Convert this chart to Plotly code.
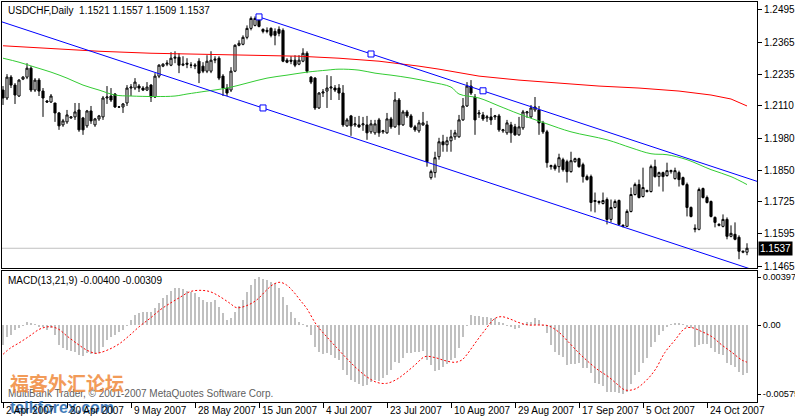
import plotly.graph_objects as go

# ---------------- text ----------------
symbol_title = "USDCHF,Daily  1.1521 1.1557 1.1509 1.1537"
macd_title = "MACD(13,21,9) -0.00400 -0.00309"
copyright_text = "MultiBank Trader, \u00a9 2001-2007 MetaQuotes Software Corp."

# ---------------- axes ----------------
date_tick_bars = [0, 16, 32, 48, 64, 80, 96, 112, 128, 144, 160, 176]
date_tick_labels = ["2 Apr 2007", "20 Apr 2007", "9 May 2007", "28 May 2007", "15 Jun 2007",
                    "4 Jul 2007", "23 Jul 2007", "10 Aug 2007", "29 Aug 2007", "17 Sep 2007",
                    "5 Oct 2007", "24 Oct 2007"]
price_ticks = [1.2495, 1.2365, 1.2235, 1.2110, 1.1980, 1.1850, 1.1725, 1.1595, 1.1465]
macd_ticks = [0.00397, 0.0, -0.00575]
macd_tick_labels = ["0.00397", "0.00", "-0.00575"]

# ---------------- daily OHLC ----------------
opens = [1.2173, 1.2141, 1.2225, 1.2193, 1.2149, 1.2217, 1.2225, 1.2261, 1.2173, 1.2213,
         1.2169, 1.2129, 1.2125, 1.2121, 1.2081, 1.2033, 1.2045, 1.2061, 1.2065, 1.2093,
         1.2061, 1.2029, 1.2089, 1.2033, 1.2057, 1.2065, 1.2141, 1.2149, 1.2157, 1.2105,
         1.2105, 1.2121, 1.2181, 1.2181, 1.2189, 1.2181, 1.2173, 1.2193, 1.2145, 1.2229,
         1.2269, 1.2277, 1.2273, 1.2301, 1.2305, 1.2273, 1.2281, 1.2273, 1.2269, 1.2289,
         1.2269, 1.2249, 1.2249, 1.2293, 1.2301, 1.2229, 1.2181, 1.2173, 1.2249, 1.2353,
         1.2357, 1.2385, 1.2421, 1.2433, 1.2469, 1.2417, 1.2413, 1.2421, 1.2409, 1.2417,
         1.2413, 1.2293, 1.2293, 1.2293, 1.2277, 1.2289, 1.2321, 1.2225, 1.2221, 1.2101,
         1.2161, 1.2169, 1.2181, 1.2181, 1.2181, 1.2161, 1.2029, 1.2069, 1.2033, 1.2033,
         1.2033, 1.2033, 1.2005, 1.2001, 1.2053, 1.2005, 1.2001, 1.2057, 1.2025, 1.2133,
         1.2033, 1.2085, 1.2069, 1.2025, 1.2009, 1.2033, 1.2033, 1.1821, 1.1841, 1.1905,
         1.1965, 1.1953, 1.1969, 1.1985, 1.1985, 1.2053, 1.2109, 1.2189, 1.2145, 1.2077,
         1.2073, 1.2061, 1.2065, 1.2065, 1.2069, 1.2009, 1.2001, 1.2033, 1.2025, 1.1993,
         1.2021, 1.2081, 1.2065, 1.2093, 1.2093, 1.2041, 1.2005, 1.1865, 1.1869, 1.1865,
         1.1893, 1.1885, 1.1845, 1.1885, 1.1897, 1.1873, 1.1825, 1.1825, 1.1725, 1.1721,
         1.1717, 1.1733, 1.1653, 1.1701, 1.1729, 1.1625, 1.1625, 1.1685, 1.1753, 1.1793,
         1.1745, 1.1765, 1.1765, 1.1865, 1.1825, 1.1841, 1.1829, 1.1845, 1.1817, 1.1841,
         1.1821, 1.1793, 1.1701, 1.1613, 1.1613, 1.1777, 1.1741, 1.1725, 1.1661, 1.1629,
         1.1625, 1.1653, 1.1585, 1.1593, 1.1581, 1.1521, 1.1521]
highs = [1.2189, 1.2237, 1.2233, 1.2201, 1.2217, 1.2229, 1.2281, 1.2269, 1.2221, 1.2221,
         1.2181, 1.2133, 1.2157, 1.2121, 1.2085, 1.2057, 1.2093, 1.2065, 1.2121, 1.2121,
         1.2065, 1.2093, 1.2109, 1.2061, 1.2073, 1.2149, 1.2189, 1.2181, 1.2161, 1.2109,
         1.2121, 1.2193, 1.2197, 1.2221, 1.2197, 1.2189, 1.2205, 1.2197, 1.2241, 1.2277,
         1.2281, 1.2293, 1.2325, 1.2329, 1.2321, 1.2309, 1.2301, 1.2285, 1.2281, 1.2301,
         1.2285, 1.2313, 1.2329, 1.2309, 1.2309, 1.2237, 1.2197, 1.2265, 1.2357, 1.2373,
         1.2393, 1.2433, 1.2469, 1.2469, 1.2473, 1.2421, 1.2425, 1.2425, 1.2421, 1.2429,
         1.2421, 1.2301, 1.2309, 1.2313, 1.2313, 1.2341, 1.2329, 1.2229, 1.2225, 1.2165,
         1.2177, 1.2233, 1.2229, 1.2193, 1.2197, 1.2193, 1.2061, 1.2073, 1.2065, 1.2069,
         1.2065, 1.2069, 1.2053, 1.2053, 1.2061, 1.2013, 1.2081, 1.2065, 1.2165, 1.2141,
         1.2093, 1.2093, 1.2077, 1.2033, 1.2053, 1.2085, 1.2049, 1.1853, 1.1925, 1.1981,
         1.1993, 1.1985, 1.2013, 1.2013, 1.2073, 1.2141, 1.2205, 1.2213, 1.2157, 1.2093,
         1.2085, 1.2073, 1.2101, 1.2073, 1.2077, 1.2017, 1.2053, 1.2045, 1.2037, 1.2065,
         1.2093, 1.2089, 1.2113, 1.2145, 1.2109, 1.2049, 1.2013, 1.1873, 1.1877, 1.1917,
         1.1901, 1.1893, 1.1925, 1.1901, 1.1901, 1.1881, 1.1833, 1.1833, 1.1761, 1.1729,
         1.1761, 1.1741, 1.1733, 1.1733, 1.1733, 1.1633, 1.1693, 1.1781, 1.1801, 1.1813,
         1.1861, 1.1773, 1.1873, 1.1893, 1.1845, 1.1845, 1.1881, 1.1853, 1.1861, 1.1849,
         1.1825, 1.1801, 1.1705, 1.1633, 1.1781, 1.1781, 1.1749, 1.1729, 1.1665, 1.1637,
         1.1673, 1.1661, 1.1629, 1.1641, 1.1589, 1.1525, 1.1557]
lows = [1.2113, 1.2133, 1.2181, 1.2117, 1.2145, 1.2213, 1.2217, 1.2165, 1.2165, 1.2149,
        1.2065, 1.2121, 1.2121, 1.2045, 1.2013, 1.2025, 1.2037, 1.2057, 1.2053, 1.2005,
        1.1993, 1.2021, 1.2037, 1.2025, 1.2049, 1.2053, 1.2117, 1.2125, 1.2101, 1.2101,
        1.2081, 1.2109, 1.2149, 1.2173, 1.2165, 1.2169, 1.2169, 1.2125, 1.2141, 1.2221,
        1.2265, 1.2269, 1.2269, 1.2281, 1.2241, 1.2269, 1.2261, 1.2261, 1.2257, 1.2201,
        1.2241, 1.2241, 1.2241, 1.2281, 1.2213, 1.2149, 1.2149, 1.2165, 1.2245, 1.2349,
        1.2353, 1.2377, 1.2413, 1.2429, 1.2425, 1.2401, 1.2401, 1.2385, 1.2353, 1.2389,
        1.2285, 1.2281, 1.2277, 1.2265, 1.2273, 1.2285, 1.2241, 1.2197, 1.2093, 1.2097,
        1.2145, 1.2101, 1.2133, 1.2165, 1.2133, 1.2025, 1.2025, 1.1989, 1.2025, 1.2021,
        1.2009, 1.1973, 1.1997, 1.1993, 1.1985, 1.1997, 1.1997, 1.2017, 1.2021, 1.1993,
        1.2029, 1.2061, 1.2021, 1.2005, 1.2001, 1.2029, 1.1865, 1.1813, 1.1821, 1.1893,
        1.1925, 1.1925, 1.1925, 1.1973, 1.1981, 1.2049, 1.2105, 1.2153, 1.1993, 1.2061,
        1.2049, 1.2045, 1.2033, 1.2053, 1.2005, 1.2001, 1.1993, 1.1961, 1.1989, 1.1989,
        1.2013, 1.2061, 1.2061, 1.2085, 1.1993, 1.1997, 1.1861, 1.1853, 1.1849, 1.1841,
        1.1845, 1.1801, 1.1841, 1.1881, 1.1861, 1.1801, 1.1809, 1.1685, 1.1681, 1.1713,
        1.1713, 1.1633, 1.1641, 1.1697, 1.1629, 1.1621, 1.1625, 1.1681, 1.1749, 1.1737,
        1.1741, 1.1761, 1.1761, 1.1821, 1.1785, 1.1765, 1.1825, 1.1837, 1.1813, 1.1785,
        1.1789, 1.1665, 1.1661, 1.1601, 1.1609, 1.1737, 1.1717, 1.1661, 1.1621, 1.1625,
        1.1621, 1.1573, 1.1581, 1.1569, 1.1493, 1.1517, 1.1509]
closes = [1.2141, 1.2225, 1.2193, 1.2153, 1.2213, 1.2225, 1.2261, 1.2173, 1.2213, 1.2169,
          1.2141, 1.2125, 1.2149, 1.2081, 1.2029, 1.2049, 1.2073, 1.2065, 1.2085, 1.2013,
          1.2013, 1.2089, 1.2049, 1.2057, 1.2069, 1.2141, 1.2145, 1.2133, 1.2105, 1.2105,
          1.2117, 1.2181, 1.2185, 1.2205, 1.2181, 1.2173, 1.2185, 1.2145, 1.2229, 1.2273,
          1.2277, 1.2281, 1.2301, 1.2305, 1.2273, 1.2277, 1.2277, 1.2273, 1.2273, 1.2241,
          1.2249, 1.2289, 1.2293, 1.2297, 1.2221, 1.2181, 1.2161, 1.2249, 1.2353, 1.2361,
          1.2385, 1.2421, 1.2461, 1.2461, 1.2429, 1.2409, 1.2409, 1.2393, 1.2393, 1.2401,
          1.2289, 1.2285, 1.2289, 1.2273, 1.2293, 1.2321, 1.2249, 1.2205, 1.2101, 1.2161,
          1.2165, 1.2181, 1.2185, 1.2173, 1.2161, 1.2033, 1.2053, 1.2029, 1.2037, 1.2025,
          1.2037, 1.2001, 1.2037, 1.2037, 1.2001, 1.2009, 1.2057, 1.2025, 1.2133, 1.2033,
          1.2085, 1.2069, 1.2025, 1.2013, 1.2041, 1.2041, 1.1885, 1.1845, 1.1901, 1.1965,
          1.1953, 1.1969, 1.1985, 1.2001, 1.2053, 1.2109, 1.2189, 1.2161, 1.2053, 1.2081,
          1.2057, 1.2065, 1.2053, 1.2069, 1.2013, 1.2013, 1.2041, 1.2001, 1.1993, 1.2025,
          1.2085, 1.2085, 1.2101, 1.2105, 1.2041, 1.2005, 1.1881, 1.1869, 1.1857, 1.1901,
          1.1853, 1.1845, 1.1889, 1.1897, 1.1865, 1.1825, 1.1813, 1.1721, 1.1729, 1.1725,
          1.1729, 1.1653, 1.1701, 1.1725, 1.1633, 1.1629, 1.1685, 1.1753, 1.1793, 1.1741,
          1.1781, 1.1769, 1.1865, 1.1825, 1.1841, 1.1825, 1.1849, 1.1849, 1.1849, 1.1813,
          1.1793, 1.1701, 1.1665, 1.1617, 1.1773, 1.1741, 1.1721, 1.1665, 1.1641, 1.1633,
          1.1653, 1.1585, 1.1597, 1.1573, 1.1525, 1.1525, 1.1537]
bars = list(range(len(closes)))

# ---------------- moving averages (read at sample bars) ----------------
ma_red_bars = [0, 10, 24, 37, 49, 64, 74, 84, 94, 104, 109, 119, 129, 139, 149, 159, 169, 177, 182, 186]
ma_red_vals = [1.2351, 1.2341, 1.2329, 1.2321, 1.2317, 1.2313, 1.2309, 1.2301, 1.2289, 1.2269,
               1.2257, 1.2229, 1.2213, 1.2201, 1.2189, 1.2181, 1.2169, 1.2153, 1.2137, 1.2109]
ma_green_bars = [0, 4, 8, 12, 16, 20, 24, 28, 32, 38, 43, 46, 51, 56, 61, 66, 71, 76, 81, 84,
                 89, 93, 97, 102, 107, 112, 114, 119, 124, 129, 136, 142, 151, 157, 162, 166,
                 171, 177, 182, 186]
ma_green_vals = [1.2301, 1.2285, 1.2265, 1.2245, 1.2221, 1.2193, 1.2173, 1.2153, 1.2149, 1.2147,
                 1.2149, 1.2157, 1.2169, 1.2181, 1.2201, 1.2221, 1.2233, 1.2245, 1.2253, 1.2257,
                 1.2253, 1.2241, 1.2233, 1.2221, 1.2205, 1.2185, 1.2157, 1.2141, 1.2109, 1.2077,
                 1.2037, 1.2005, 1.1973, 1.1941, 1.1917, 1.1913, 1.1893, 1.1853, 1.1825, 1.1793]

# ---------------- equidistant channel ----------------
chan_upper_bars = [64, 188.5]
chan_upper_vals = [1.2467, 1.1806]
chan_lower_bars = [-0.25, 188.5]
chan_lower_vals = [1.2447, 1.1445]
chan_upper_pts_bars = [64, 92, 120]
chan_upper_pts_vals = [1.2467, 1.2318, 1.2170]
chan_lower_pts_bars = [65]
chan_lower_pts_vals = [1.2101]

# ---------------- MACD ----------------
macd_hist = [-0.00166, -0.00097, -0.00083, -0.00042, -0.00022, -0.00008, 0.00022, 0.00011, 0.00006, -0.00014,
             -0.00014, -0.00042, -0.00028, -0.00083, -0.00166, -0.00194, -0.00208, -0.00216, -0.00222, -0.00249,
             -0.00255, -0.00235, -0.00244, -0.00244, -0.00235, -0.00180, -0.00125, -0.00097, -0.00083, -0.00055,
             -0.00042, -0.00002, 0.00042, 0.00083, 0.00097, 0.00111, 0.00111, 0.00111, 0.00139, 0.00180,
             0.00222, 0.00249, 0.00283, 0.00305, 0.00305, 0.00299, 0.00283, 0.00271, 0.00263, 0.00235,
             0.00208, 0.00194, 0.00194, 0.00208, 0.00152, 0.00097, 0.00042, 0.00055, 0.00105, 0.00161,
             0.00208, 0.00277, 0.00332, 0.00382, 0.00397, 0.00382, 0.00374, 0.00360, 0.00346, 0.00310,
             0.00235, 0.00166, 0.00111, 0.00055, 0.00022, 0.00006, -0.00014, -0.00083, -0.00180, -0.00227,
             -0.00244, -0.00235, -0.00249, -0.00277, -0.00291, -0.00374, -0.00416, -0.00457, -0.00476, -0.00493,
             -0.00504, -0.00499, -0.00471, -0.00457, -0.00465, -0.00443, -0.00416, -0.00374, -0.00305, -0.00319,
             -0.00271, -0.00235, -0.00235, -0.00227, -0.00227, -0.00216, -0.00291, -0.00332, -0.00382, -0.00374,
             -0.00346, -0.00327, -0.00291, -0.00277, -0.00194, -0.00097, -0.00006, 0.00083, 0.00078, 0.00078,
             0.00069, 0.00069, 0.00061, 0.00055, 0.00028, 0.00014, -0.00008, -0.00014, -0.00033, -0.00028,
             0.00006, 0.00028, 0.00028, 0.00061, 0.00042, -0.00002, -0.00069, -0.00166, -0.00222, -0.00249,
             -0.00263, -0.00332, -0.00327, -0.00327, -0.00319, -0.00355, -0.00360, -0.00402, -0.00485, -0.00493,
             -0.00504, -0.00554, -0.00560, -0.00560, -0.00568, -0.00575, -0.00560, -0.00493, -0.00416, -0.00393,
             -0.00319, -0.00271, -0.00180, -0.00139, -0.00083, -0.00050, -0.00014, 0.00006, 0.00014, 0.00014,
             0.00003, -0.00014, -0.00028, -0.00180, -0.00166, -0.00161, -0.00161, -0.00194, -0.00227, -0.00244,
             -0.00249, -0.00319, -0.00332, -0.00346, -0.00388, -0.00415, -0.00400]
signal_bars = [0, 1.75, 4.25, 6.75, 9.25, 11.75, 13.8, 15.9, 18.4, 20.9, 23.0, 24.25, 26.75, 29.25,
               31.75, 34.25, 36.75, 39.25, 41.75, 44.25, 46.75, 49.25, 51.75, 54.25, 56.75, 58.4,
               60.9, 63.4, 65.9, 67.6, 69.25, 70.9, 72.6, 74.25, 75.9, 78.4, 80.9, 83.4, 85.9, 88.4,
               90.9, 93.4, 95.9, 98.4, 100.5, 103, 105.5, 108, 110.5, 113, 114.7, 115.9, 118, 120.5,
               123, 124.7, 126.75, 128.8, 131.3, 133.8, 136.3, 138.8, 141.3, 143.8, 146.3, 148.8,
               151.3, 153.8, 155.5, 158, 160.5, 163, 165.5, 168, 170.5, 172.2, 174.7, 177.2, 179.7,
               182.2, 184.7, 186]
signal_vals = [-0.00244, -0.00194, -0.00144, -0.00089, -0.00033, -0.00014, -0.00033, -0.00089, -0.00152,
               -0.00208, -0.00235, -0.00230, -0.00199, -0.00152, -0.00083, -0.00008, 0.00055, 0.00125,
               0.00180, 0.00230, 0.00277, 0.00288, 0.00277, 0.00235, 0.00180, 0.00144, 0.00161, 0.00208,
               0.00291, 0.00338, 0.00355, 0.00332, 0.00277, 0.00208, 0.00139, 0.00000, -0.00097, -0.00188,
               -0.00277, -0.00360, -0.00429, -0.00476, -0.00485, -0.00452, -0.00402, -0.00332, -0.00263,
               -0.00271, -0.00296, -0.00310, -0.00291, -0.00249, -0.00152, -0.00042, 0.00055, 0.00069,
               0.00050, 0.00022, 0.00000, 0.00000, -0.00006, -0.00055, -0.00139, -0.00227, -0.00305,
               -0.00374, -0.00429, -0.00499, -0.00540, -0.00532, -0.00471, -0.00374, -0.00227, -0.00125,
               -0.00028, -0.00022, -0.00055, -0.00097, -0.00166, -0.00227, -0.00291, -0.00309]

FONT = "Liberation Sans, Arial, sans-serif"
FS = 10

fig = go.Figure()

fig.add_trace(go.Candlestick(
    x=bars, open=opens, high=highs, low=lows, close=closes,
    increasing=dict(fillcolor="white", line=dict(color="black", width=1)),
    decreasing=dict(fillcolor="black", line=dict(color="black", width=1)),
    whiskerwidth=0, xaxis="x", yaxis="y", showlegend=False, hoverinfo="skip"))

fig.add_trace(go.Scatter(x=ma_red_bars, y=ma_red_vals, mode="lines",
                         line=dict(color="#ff0000", width=1), xaxis="x", yaxis="y", hoverinfo="skip"))
fig.add_trace(go.Scatter(x=ma_green_bars, y=ma_green_vals, mode="lines", line_shape="spline",
                         line=dict(color="#33cc33", width=1), xaxis="x", yaxis="y", hoverinfo="skip"))

fig.add_trace(go.Scatter(x=chan_upper_bars, y=chan_upper_vals, mode="lines",
                         line=dict(color="#0000ff", width=1), xaxis="x", yaxis="y", hoverinfo="skip"))
fig.add_trace(go.Scatter(x=chan_lower_bars, y=chan_lower_vals, mode="lines",
                         line=dict(color="#0000ff", width=1), xaxis="x", yaxis="y", hoverinfo="skip"))
fig.add_trace(go.Scatter(x=chan_upper_pts_bars + chan_lower_pts_bars,
                         y=chan_upper_pts_vals + chan_lower_pts_vals, mode="markers",
                         marker=dict(symbol="square", size=6, color="white",
                                     line=dict(color="#0000ff", width=1)),
                         xaxis="x", yaxis="y", hoverinfo="skip"))

fig.add_trace(go.Bar(x=bars, y=macd_hist, width=0.28, marker=dict(color="#c0c0c0", line=dict(width=0)),
                     xaxis="x2", yaxis="y2", hoverinfo="skip"))
fig.add_trace(go.Scatter(x=signal_bars, y=signal_vals, mode="lines", line_shape="spline",
                         line=dict(color="#ff0000", width=1, dash="2px,2px"),
                         xaxis="x2", yaxis="y2", hoverinfo="skip"))

x_range = [-0.25, 188.5]
axis_common = dict(showgrid=False, zeroline=False, showline=True, mirror=True,
                   linecolor="black", linewidth=1, automargin=False)

fig.update_layout(
    width=795, height=419,
    margin=dict(l=2, r=38, t=2, b=17),
    paper_bgcolor="white", plot_bgcolor="white",
    showlegend=False, boxgap=0.25, bargap=0,
    font=dict(family=FONT, size=FS, color="black"),
    xaxis=dict(domain=[0, 1], range=x_range, anchor="y", showticklabels=False, ticks="",
               rangeslider=dict(visible=False), **axis_common),
    yaxis=dict(domain=[0.335, 1], range=[1.14576, 1.25270], side="right", anchor="x",
               tickvals=price_ticks, ticktext=["%.4f" % v for v in price_ticks],
               ticks="outside", ticklen=4, tickcolor="black",
               tickfont=dict(family=FONT, size=FS, color="black"), **axis_common),
    xaxis2=dict(domain=[0, 1], range=x_range, anchor="y2", showticklabels=False,
                tickvals=date_tick_bars, ticks="outside", ticklen=5, tickcolor="black",
                **axis_common),
    yaxis2=dict(domain=[0, 0.3275], range=[-0.006399, 0.004487], side="right", anchor="x2",
                tickvals=macd_ticks, ticktext=macd_tick_labels,
                ticks="outside", ticklen=3, tickcolor="black",
                tickfont=dict(family=FONT, size=9.2, color="black"), **axis_common),
)

# current price line and label
fig.add_shape(type="line", xref="x", yref="y", x0=x_range[0], x1=x_range[1],
              y0=closes[-1], y1=closes[-1], line=dict(color="#c0c0c0", width=1), layer="below")
fig.add_annotation(xref="paper", yref="y", x=1.0, y=closes[-1], xanchor="left", yanchor="middle",
                   text="%.4f" % closes[-1], showarrow=False, bgcolor="black", borderpad=1,
                   xshift=1, font=dict(family=FONT, size=FS, color="white"))

# titles
fig.add_annotation(xref="paper", yref="paper", x=0.0053, y=0.98, xanchor="left", yanchor="middle",
                   text=symbol_title, showarrow=False, font=dict(family=FONT, size=FS, color="black"))
fig.add_annotation(xref="paper", yref="paper", x=0.0053, y=0.305, xanchor="left", yanchor="middle",
                   text=macd_title, showarrow=False, font=dict(family=FONT, size=FS, color="black"))
fig.add_annotation(xref="paper", yref="paper", x=0.0053, y=0.0225, xanchor="left", yanchor="middle",
                   text=copyright_text, showarrow=False, font=dict(family=FONT, size=FS, color="#606060"))

# watermark
fig.add_annotation(xref="paper", yref="paper", x=0.008, y=0.05, xanchor="left", yanchor="middle",
                   text="<b>福客外汇论坛</b>", showarrow=False, opacity=0.85,
                   font=dict(family="Noto Sans CJK SC", size=19, color="#f08a3c"))
fig.add_annotation(xref="paper", yref="paper", x=0.008, y=-0.0125, xanchor="left", yanchor="middle",
                   text="<b>talkforex.com</b>", showarrow=False, opacity=0.9,
                   font=dict(family="Liberation Sans, Arial, sans-serif", size=16, color="#2f6fb2"))

# date labels (left aligned at the tick)
for b, lab in zip(date_tick_bars, date_tick_labels):
    fig.add_annotation(xref="x2", yref="paper", x=b, y=-0.02, xanchor="left", yanchor="middle",
                       text=lab, showarrow=False, xshift=1,
                       font=dict(family=FONT, size=FS, color="black"))

fig.write_html("out.html")
